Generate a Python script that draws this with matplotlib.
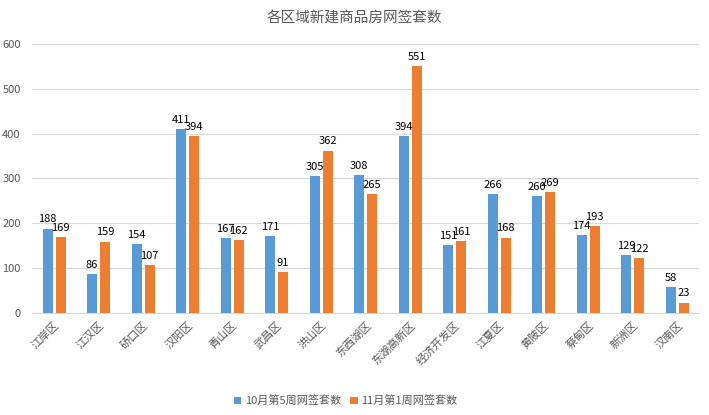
import matplotlib
matplotlib.use("Agg")
import matplotlib.pyplot as plt
import numpy as np

plt.rcParams["font.family"] = ["Noto Sans CJK SC", "DejaVu Sans"]

# data
districts = ["江岸区", "江汉区", "硚口区", "汉阳区", "青山区", "武昌区", "洪山区",
             "东西湖区", "东湖高新区", "经济开发区", "江夏区", "黄陂区", "蔡甸区",
             "新洲区", "汉南区"]
oct_w5 = [188, 86, 154, 411, 167, 171, 305, 308, 394, 151, 266, 260, 174, 129, 58]
nov_w1 = [169, 159, 107, 394, 162, 91, 362, 265, 551, 161, 168, 269, 193, 122, 23]
series_names = ["10月第5周网签套数", "11月第1周网签套数"]
yticks = [0, 100, 200, 300, 400, 500, 600]

blue = "#5B9BD5"
orange = "#ED7D31"

fig = plt.figure(figsize=(7.09, 4.15), dpi=100)
ax = fig.add_axes([0.0448, 0.246, 0.9415, 0.648])

x = np.arange(len(districts))
w = 0.225
b1 = ax.bar(x - 0.146, oct_w5, width=w, color=blue, label=series_names[0], zorder=3)
b2 = ax.bar(x + 0.146, nov_w1, width=w, color=orange, label=series_names[1], zorder=3)

# value labels above each bar
for bars in (b1, b2):
    for r in bars:
        ax.annotate(f"{int(r.get_height())}",
                    (r.get_x() + r.get_width() / 2, r.get_height()),
                    xytext=(0, 3), textcoords="offset points",
                    ha="center", va="bottom", fontsize=8, color="#000000",
                    zorder=4)

ax.set_xlim(-0.5, len(districts) - 0.5)
ax.set_ylim(0, 600)
ax.set_yticks(yticks)
ax.grid(axis="y", color="#D9D9D9", linewidth=0.8, zorder=0)
for s in ["top", "right", "left"]:
    ax.spines[s].set_visible(False)
ax.spines["bottom"].set_color("#D9D9D9")
ax.tick_params(axis="both", length=0, colors="#595959", labelsize=8)
ax.tick_params(axis="y", pad=8)
ax.tick_params(axis="x", pad=5)
ax.set_xticks(x)
ax.set_xticklabels(districts, rotation=45, ha="right", rotation_mode="anchor")

fig.text(0.5, 0.958, "各区域新建商品房网签套数", ha="center", va="center",
         fontsize=10.5, color="#595959")

ax.legend(loc="upper center", bbox_to_anchor=(0.47, -0.27), ncol=2, frameon=False,
          fontsize=8, handlelength=0.7, handleheight=0.7, columnspacing=0.8,
          handletextpad=0.3, labelcolor="#595959")

fig.savefig("out.png", dpi=100)
